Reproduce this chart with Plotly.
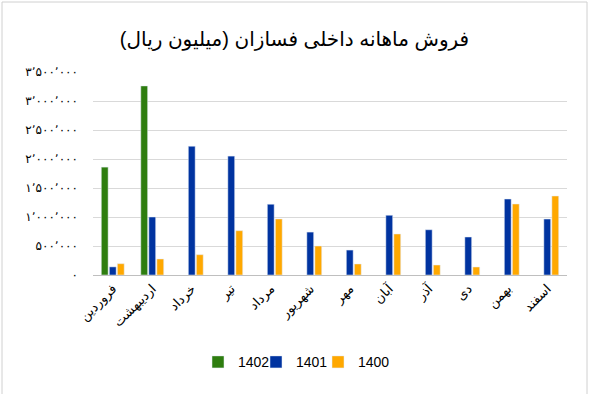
import plotly.graph_objects as go

months = ["فروردین", "اردیبهشت", "خرداد", "تیر", "مرداد", "شهریور",
          "مهر", "آبان", "آذر", "دی", "بهمن", "اسفند"]
s1402 = [1860000, 3260000, None, None, None, None, None, None, None, None, None, None]
s1401 = [140000, 1000000, 2220000, 2050000, 1220000, 740000,
         430000, 1030000, 780000, 655000, 1310000, 965000]
s1400 = [195000, 276000, 350000, 764000, 966000, 500000,
         190000, 707000, 172000, 138000, 1224000, 1362000]
tick_vals = [0, 500000, 1000000, 1500000, 2000000, 2500000, 3000000, 3500000]
tick_text = ["۰", "۵۰۰٬۰۰۰", "۱٬۰۰۰٬۰۰۰", "۱٬۵۰۰٬۰۰۰", "۲٬۰۰۰٬۰۰۰",
             "۲٬۵۰۰٬۰۰۰", "۳٬۰۰۰٬۰۰۰", "۳٬۵۰۰٬۰۰۰"]

FONT = "Arial, DejaVu Sans, sans-serif"

fig = go.Figure()
fig.add_bar(x=months, y=s1402, name="1402", marker_color="#2e7d0f", legend="legend")
fig.add_bar(x=months, y=s1401, name="1401", marker_color="#0033a0", legend="legend2")
fig.add_bar(x=months, y=s1400, name="1400", marker_color="#ffa800", legend="legend3")

def px(v):
    return (v - 93) / 474

leg_common = dict(orientation="h", xanchor="left", y=-0.43, yanchor="middle",
                  font=dict(size=14, family=FONT), itemwidth=30,
                  bgcolor="rgba(0,0,0,0)")

fig.update_layout(
    width=589, height=394,
    margin=dict(l=93, r=22, t=72, b=119),
    paper_bgcolor="white", plot_bgcolor="white",
    barmode="group", bargap=0.39, bargroupgap=0.15,
    font=dict(family=FONT, color="black"),
    title=dict(text="فروش ماهانه داخلی فسازان (میلیون ریال)",
               x=0.5, xref="container", xanchor="center", y=0.9, yanchor="middle",
               font=dict(size=20, family=FONT, color="black")),
    legend=dict(x=px(198), **leg_common),
    legend2=dict(x=px(256), **leg_common),
    legend3=dict(x=px(318), **leg_common),
    showlegend=True,
)
fig.update_xaxes(showline=True, linecolor="#bfbfbf", linewidth=1, tickangle=-45,
                 tickfont=dict(size=13, family=FONT), ticks="", showgrid=False)
fig.update_yaxes(range=[0, 3500000], tickvals=tick_vals, ticktext=tick_text,
                 showgrid=True, gridcolor="#d9d9d9", gridwidth=1, zeroline=False,
                 tickfont=dict(size=12, family=FONT), ticks="", ticklabelstandoff=14)
fig.add_shape(type="rect", xref="paper", yref="paper",
              x0=(2 - 93) / 474, x1=(587 - 93) / 474,
              y0=(119 - 392) / 203, y1=(394 - 2 - 119) / 203 + 0.0,
              line=dict(color="#d0d0d0", width=1), layer="below")

fig.write_html("out.html")
